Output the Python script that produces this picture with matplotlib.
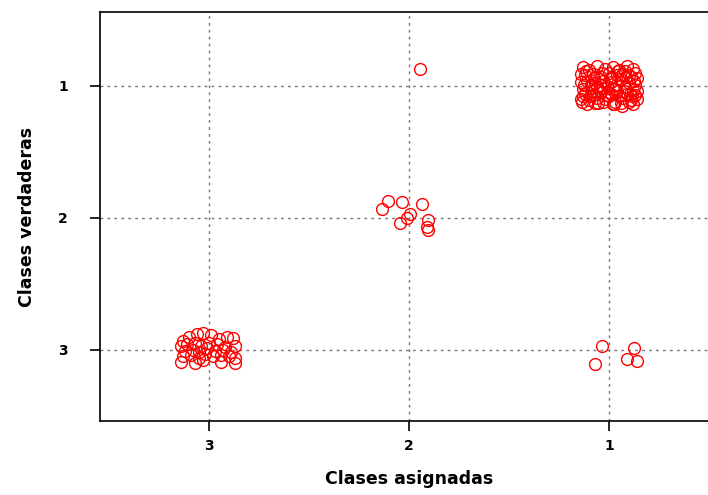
import numpy as np
import matplotlib.pyplot as plt

# asignada 1 / verdadera 1 (nube densa)
c11_x = [1.13, 1.10, 1.06, 1.02, 0.98, 0.95, 0.91, 0.88, 0.87,
         1.12, 1.08, 1.04, 1.00, 0.96, 0.93, 0.89, 0.86,
         1.14, 1.11, 1.07, 1.03, 0.99, 0.94, 0.90, 0.87,
         1.13, 1.09, 1.05, 1.01, 0.97, 0.92, 0.88, 0.86,
         1.12, 1.08, 1.04, 0.99, 0.95, 0.91, 0.87,
         1.14, 1.10, 1.06, 1.02, 0.97, 0.93, 0.89, 0.86,
         1.11, 1.07, 1.03, 0.98, 0.94, 0.90, 0.88,
         1.05, 0.96, 1.00, 0.92, 1.09, 1.13, 0.99,
         1.115, 1.075, 1.035, 0.995, 0.955, 0.915, 0.875,
         1.125, 1.085, 1.045, 1.005, 0.965, 0.925, 0.885,
         1.135, 1.095, 1.055, 1.015, 0.975, 0.935, 0.895,
         1.14, 1.06, 0.98, 0.90]
c11_y = [0.86, 0.88, 0.85, 0.87, 0.86, 0.88, 0.85, 0.87, 0.90,
         0.92, 0.91, 0.93, 0.90, 0.92, 0.91, 0.93, 0.94,
         0.97, 0.96, 0.98, 0.96, 0.97, 0.95, 0.98, 0.99,
         1.02, 1.01, 1.03, 1.00, 1.02, 1.01, 1.03, 1.04,
         1.06, 1.07, 1.05, 1.06, 1.08, 1.06, 1.07,
         1.10, 1.11, 1.09, 1.10, 1.12, 1.09, 1.11, 1.10,
         1.14, 1.13, 1.12, 1.14, 1.13, 1.12, 1.14,
         0.95, 1.04, 1.08, 0.89, 0.99, 1.08, 0.93,
         0.89, 0.94, 0.90, 0.94, 0.89, 0.93, 0.96,
         0.99, 1.04, 0.99, 1.05, 0.99, 1.04, 1.08,
         1.12, 1.08, 1.13, 1.07, 1.14, 1.15, 1.06,
         0.91, 1.01, 1.02, 0.92]

# verdadera 1 asignada 2
c12_x = [1.945]
c12_y = [0.87]

# verdadera 2 asignada 2
c22_x = [2.137, 2.104, 2.037, 1.937, 1.995, 2.012, 2.045, 1.904, 1.912, 1.904]
c22_y = [1.934, 1.871, 1.877, 1.896, 1.972, 1.998, 2.043, 2.017, 2.068, 2.093]

# verdadera 3 asignada 3
c33_x = [3.13, 3.10, 3.06, 3.03, 2.99, 2.95, 2.91, 2.88,
         3.14, 3.11, 3.07, 3.04, 3.00, 2.96, 2.92, 2.87,
         3.12, 3.08, 3.05, 3.01, 2.97, 2.93, 2.89,
         3.13, 3.09, 3.05, 3.02, 2.98, 2.94, 2.90, 2.87,
         3.14, 3.07, 3.03, 2.94, 2.87]
c33_y = [2.93, 2.90, 2.88, 2.87, 2.89, 2.92, 2.90, 2.91,
         2.97, 2.96, 2.95, 2.97, 2.95, 2.96, 2.98, 2.97,
         3.01, 3.00, 3.02, 2.99, 3.01, 3.00, 3.02,
         3.05, 3.04, 3.06, 3.03, 3.05, 3.04, 3.05, 3.06,
         3.09, 3.10, 3.08, 3.09, 3.10]

# verdadera 3 asignada 1
c31_x = [1.037, 1.070, 0.874, 0.909, 0.862]
c31_y = [2.970, 3.108, 2.987, 3.070, 3.089]

ticks = [1, 2, 3]

x = c11_x + c12_x + c22_x + c33_x + c31_x
y = c11_y + c12_y + c22_y + c33_y + c31_y

fig = plt.figure(figsize=(7.08, 4.95), dpi=100)
ax = fig.add_axes([100 / 708, 1 - 421 / 495, 618 / 708, 409 / 495])

ax.plot(x, y, ls="none", marker="o", ms=8.5, mfc="none", mec="red", mew=1.0)

ax.set_xlim(3.545, 0.455)
ax.set_ylim(3.54, 0.44)
ax.set_xticks(ticks)
ax.set_yticks(ticks)
ax.set_xticklabels([str(t) for t in ticks], fontweight="bold", fontsize=10)
ax.set_yticklabels([str(t) for t in ticks], fontweight="bold", fontsize=10)
ax.tick_params(direction="out", length=7, width=1.2)
ax.tick_params(axis="x", pad=6)
ax.tick_params(axis="y", pad=16)
ax.grid(True, color="#777777", ls=(0, (2, 3)), lw=1)
ax.set_axisbelow(True)
for s in ax.spines.values():
    s.set_linewidth(1.2)

ax.set_xlabel("Clases asignadas", fontweight="bold", fontsize=12.5, labelpad=12)
ax.set_ylabel("Clases verdaderas", fontweight="bold", fontsize=12.5, labelpad=16)

fig.savefig("out.png", dpi=100)
